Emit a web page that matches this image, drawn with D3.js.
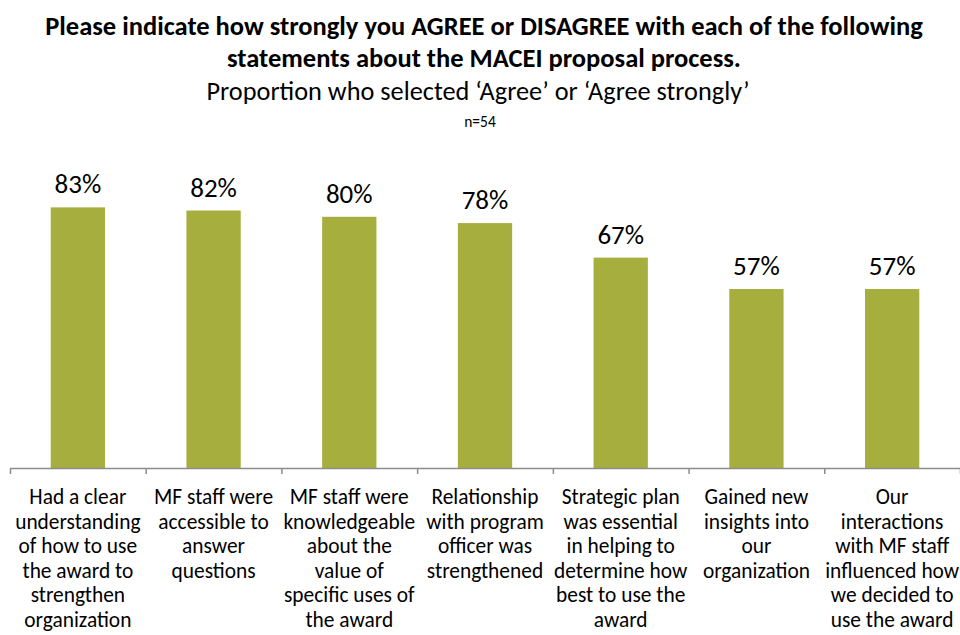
<!DOCTYPE html>
<html>
<head>
<meta charset="UTF-8">
<style>
  body { margin: 0; background: #fff; }
  text { font-family: Calibri, Carlito, Lato, sans-serif; fill: #000; }
</style>
<script src="https://cdn.jsdelivr.net/npm/d3@7"></script>
</head>
<body>
<svg width="960" height="635"></svg>
<script>
// statements, each split as in the original chart
var categories = [
  ["Had a clear", "understanding", "of how to use", "the award to", "strengthen", "organization"],
  ["MF staff were", "accessible to", "answer", "questions"],
  ["MF staff were", "knowledgeable", "about the", "value of", "specific uses of", "the award"],
  ["Relationship", "with program", "officer was", "strengthened"],
  ["Strategic plan", "was essential", "in helping to", "determine how", "best to use the", "award"],
  ["Gained new", "insights into", "our", "organization"],
  ["Our", "interactions", "with MF staff", "influenced how", "we decided to", "use the award"]
];
var values = [83, 82, 80, 78, 67, 57, 57];

var svg = d3.select("svg");
var baseY = 468;

var x = d3.scaleBand().domain(d3.range(categories.length)).range([10, 960]).paddingInner(0.6).paddingOuter(0.3);
var xTicks = d3.scaleBand().domain(d3.range(categories.length)).range([10, 960]);
var y = d3.scaleLinear().domain([0, 100]).range([baseY, 154]);

// titles
svg.append("text").attr("x", 484).attr("y", 35).attr("text-anchor", "middle")
  .style("font-size", "26.5px").style("font-weight", "bold")
  .text("Please indicate how strongly you AGREE or DISAGREE with each of the following");
svg.append("text").attr("x", 484).attr("y", 67).attr("text-anchor", "middle")
  .style("font-size", "26.5px").style("font-weight", "bold")
  .text("statements about the MACEI proposal process.");
svg.append("text").attr("x", 478).attr("y", 100).attr("text-anchor", "middle")
  .style("font-size", "26.3px")
  .text("Proportion who selected \u2018Agree\u2019 or \u2018Agree strongly\u2019");
svg.append("text").attr("x", 480).attr("y", 127).attr("text-anchor", "middle")
  .style("font-size", "15.5px")
  .text("n=54");

// bars
svg.selectAll("rect.bar").data(values).enter().append("rect")
  .attr("class", "bar")
  .attr("x", (d, i) => x(i))
  .attr("width", x.bandwidth())
  .attr("y", d => y(d))
  .attr("height", d => baseY - y(d))
  .attr("fill", "#A6AE3D");

// value labels
svg.selectAll("text.val").data(values).enter().append("text")
  .attr("class", "val")
  .attr("x", (d, i) => x(i) + x.bandwidth() / 2)
  .attr("y", d => y(d) - 14)
  .attr("text-anchor", "middle")
  .style("font-size", "27px")
  .text(d => d + "%");

// axis line and ticks
svg.append("line").attr("x1", 10).attr("x2", 960).attr("y1", baseY + 0.5).attr("y2", baseY + 0.5)
  .attr("stroke", "#8c8c8c").attr("stroke-width", 1.5);
svg.selectAll("line.tick").data(d3.range(categories.length + 1)).enter().append("line")
  .attr("class", "tick")
  .attr("x1", i => (i < categories.length ? xTicks(i) : 960) + 0.5)
  .attr("x2", i => (i < categories.length ? xTicks(i) : 960) + 0.5)
  .attr("y1", baseY).attr("y2", baseY + 6)
  .attr("stroke", "#8c8c8c").attr("stroke-width", 1.5);

// category labels
var lab = svg.selectAll("text.cat").data(categories).enter().append("text")
  .attr("class", "cat")
  .attr("text-anchor", "middle")
  .style("font-size", "21.4px");
lab.selectAll("tspan").data((d, i) => d.map(s => ({s: s, i: i}))).enter().append("tspan")
  .attr("x", d => xTicks(d.i) + xTicks.bandwidth() / 2)
  .attr("y", (d, j) => 504 + j * 24.5)
  .text(d => d.s);
</script>
</body>
</html>
